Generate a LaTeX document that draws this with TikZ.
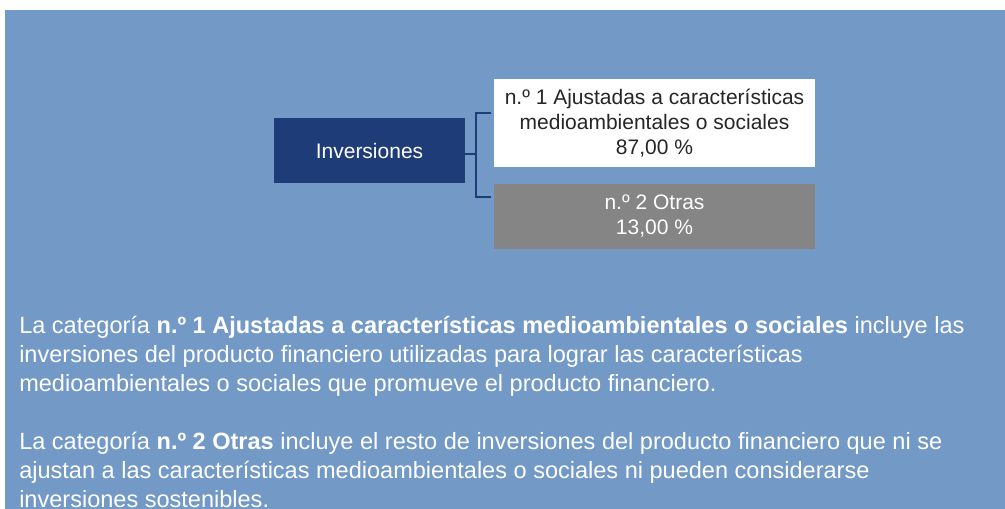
\documentclass[tikz,border=0pt]{standalone}
\usepackage{fontspec}
\setmainfont{Liberation Sans}
\usetikzlibrary{positioning}
\definecolor{bgblue}{HTML}{7399C6}
\definecolor{darkblue}{HTML}{1E3C78}
\definecolor{boxgray}{HTML}{858585}
\definecolor{textdark}{HTML}{262626}

\begin{document}
\begin{tikzpicture}[x=0.75pt,y=-0.75pt,
  catbox/.style={inner sep=0pt,minimum width=240.75pt,align=center,
    font=\fontsize{15.75}{18.75}\selectfont},
  invbox/.style={fill=darkblue,text=white,inner sep=0pt,minimum width=143.25pt,
    minimum height=48.75pt,font=\fontsize{15.75}{18.75}\selectfont},
  para/.style={anchor=base west,inner sep=0pt,align=left,text=white,
    font=\fontsize{17.65}{21.75}\selectfont},
  brk/.style={draw=darkblue,line width=1.5pt}]
\useasboundingbox (0,0) rectangle (1005,509);
\fill[bgblue] (5,10) rectangle (1005,509);

\node[invbox](inv) at (369.5,150.5){Inversiones};
\node[catbox,fill=white,text=textdark,minimum height=66pt](cat1) at (654.5,123)
  {n.º 1 Ajustadas a características\\medioambientales o sociales\\87,00 \%};
\node[catbox,fill=boxgray,text=white,minimum height=48.75pt](cat2) at (654.5,216.5)
  {n.º 2 Otras\\13,00 \%};

% bracket
\coordinate (mid) at (476,154);
\coordinate (top) at (476,113);
\coordinate (bot) at (476,197);
\draw[brk](inv.east |- mid)--(mid);
\draw[brk](cat1.west |- top)++(-3,0)--(top)--(bot)--([xshift=-2.25pt]cat2.west |- bot);

% base anchor sits on the last line
\node[para](p1) at (19,391){La categoría \textbf{n.º 1 Ajustadas a características medioambientales o sociales} incluye las\\
  inversiones del producto financiero utilizadas para lograr las características\\
  medioambientales o sociales que promueve el producto financiero.};
\node[para](p2) at (19,507){La categoría \textbf{n.º 2 Otras} incluye el resto de inversiones del producto financiero que ni se\\
  ajustan a las características medioambientales o sociales ni pueden considerarse\\
  inversiones sostenibles.};
\end{tikzpicture}
\end{document}
